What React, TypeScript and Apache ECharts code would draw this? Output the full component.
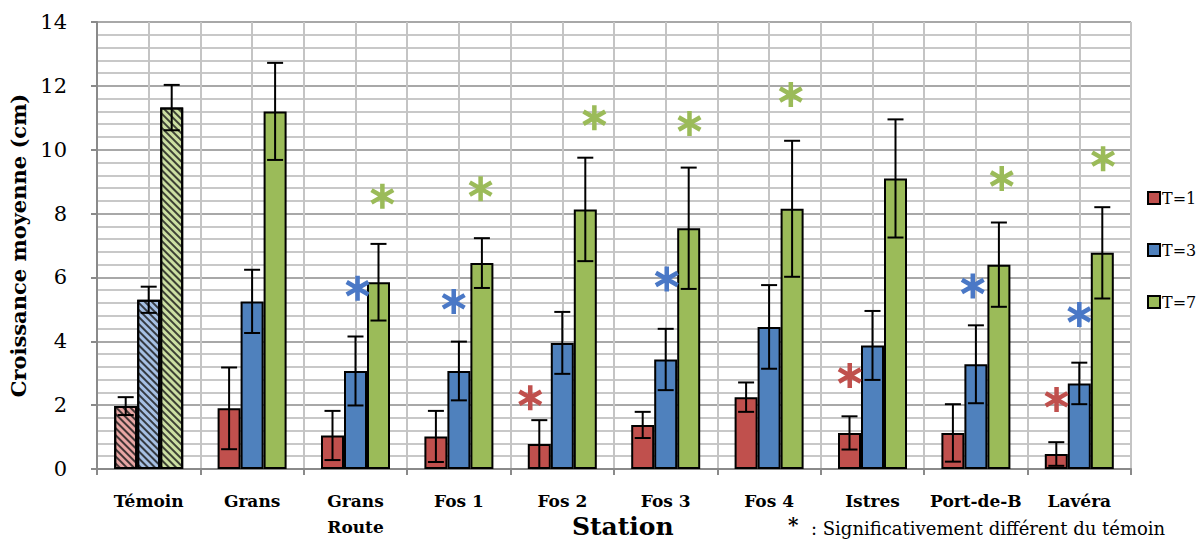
import React, { useEffect, useRef } from 'react';
import * as echarts from 'echarts';

const categories = ['Témoin', 'Grans', 'Grans\nRoute', 'Fos 1', 'Fos 2', 'Fos 3', 'Fos 4', 'Istres', 'Port-de-B', 'Lavéra'];
const seriesNames = ['T=1', 'T=3', 'T=7'];

const meanT1 = [1.97, 1.9, 1.05, 1.02, 0.78, 1.38, 2.25, 1.13, 1.13, 0.47];
const errT1 = [0.28, 1.28, 0.77, 0.8, 0.75, 0.41, 0.46, 0.52, 0.9, 0.37];
const meanT3 = [5.3, 5.25, 3.07, 3.07, 3.95, 3.43, 4.45, 3.87, 3.28, 2.68];
const errT3 = [0.41, 0.99, 1.08, 0.92, 0.97, 0.96, 1.31, 1.08, 1.22, 0.65];
const meanT7 = [11.32, 11.2, 5.85, 6.45, 8.13, 7.54, 8.15, 9.1, 6.4, 6.77];
const errT7 = [0.71, 1.52, 1.2, 0.78, 1.62, 1.9, 2.13, 1.85, 1.32, 1.43];

// significance markers: [position along the station axis (0..10), height in cm]
const starsT1 = [[4.19, 2.23], [7.28, 2.93], [9.28, 2.18]];
const starsT3 = [[2.52, 5.66], [3.45, 5.25], [5.51, 5.95], [8.47, 5.73], [9.5, 4.84]];
const starsT7 = [[2.76, 8.54], [3.71, 8.78], [4.81, 11.0], [5.73, 10.82], [6.71, 11.73], [8.75, 9.1], [9.73, 9.72]];

const yTicks = { min: 0, max: 14, interval: 2 };

const COLORS = ['#C0504D', '#4F81BD', '#9BBB59'];
const LIGHT = ['#E8A6A4', '#A6C0E4', '#CCDFA2'];
const STAR_COLORS = ['#C0504D', '#4A78C6', '#9BBB59'];
const FONT = 'DejaVu Serif';
const BAR_W = 23;

const STAR_PATH =
  'path://M-9,-50L9,-50L9,50L-9,50ZM38.8,-32.8L47.8,-17.2L-38.8,32.8L-47.8,17.2ZM47.8,17.2L38.8,32.8L-47.8,-17.2L-38.8,-32.8Z';

function barSeries(k: number, means: number[]) {
  return {
    type: 'bar',
    name: seriesNames[k],
    xAxisIndex: 0,
    yAxisIndex: 0,
    barWidth: BAR_W,
    barGap: '0%',
    z: 3,
    itemStyle: { color: COLORS[k], borderColor: '#000', borderWidth: 2 },
    data: means.map((m, i) =>
      i === 0
        ? {
            value: m,
            itemStyle: {
              color: LIGHT[k],
              decal: {
                symbol: 'rect',
                symbolSize: 1,
                color: 'rgba(25,25,25,0.8)',
                dashArrayX: [1, 0],
                dashArrayY: [1.5, 2.2],
                rotation: Math.PI / 4,
              },
            },
          }
        : m
    ),
  };
}

function errSeries(k: number, means: number[], errs: number[]) {
  const offset = (k - 1) * BAR_W;
  return {
    type: 'custom',
    name: 'err' + seriesNames[k],
    xAxisIndex: 0,
    yAxisIndex: 0,
    z: 6,
    encode: { x: 0, y: 1 },
    data: means.map((m, i) => [i, m, errs[i]]),
    renderItem: (_params: any, api: any) => {
      const i = api.value(0);
      const m = api.value(1);
      const e = api.value(2);
      const top = api.coord([i, m + e]);
      const bot = api.coord([i, Math.max(0, m - e)]);
      const x = top[0] + offset;
      const style = { stroke: '#000', lineWidth: 2 };
      return {
        type: 'group',
        children: [
          { type: 'line', shape: { x1: x, y1: top[1], x2: x, y2: bot[1] }, style },
          { type: 'line', shape: { x1: x - 8, y1: top[1], x2: x + 8, y2: top[1] }, style },
          { type: 'line', shape: { x1: x - 8, y1: bot[1], x2: x + 8, y2: bot[1] }, style },
        ],
      };
    },
  };
}

function starSeries(k: number, pts: number[][]) {
  return {
    type: 'scatter',
    name: 'star' + seriesNames[k],
    xAxisIndex: 1,
    yAxisIndex: 0,
    z: 7,
    symbol: STAR_PATH,
    symbolSize: [24, 25],
    itemStyle: { color: STAR_COLORS[k], opacity: 1 },
    data: pts,
  };
}

export default function App() {
  const ref = useRef<HTMLDivElement>(null);
  useEffect(() => {
    if (!ref.current) return;
    const chart = echarts.init(ref.current, null, { renderer: 'svg' });
    const axisGray = '#8a8a8a';
    chart.setOption({
      animation: false,
      backgroundColor: '#ffffff',
      grid: { left: 97, right: 69, top: 22, bottom: 65, containLabel: false },
      legend: {
        data: seriesNames,
        orient: 'vertical',
        left: 1142,
        top: 185,
        icon: 'rect',
        itemWidth: 12,
        itemHeight: 12,
        itemGap: 36,
        textStyle: { fontFamily: FONT, fontSize: 16, color: '#000', padding: [0, 0, 0, -3] },
      },
      xAxis: [
        {
          type: 'category',
          data: categories,
          axisLine: { lineStyle: { color: axisGray, width: 2 } },
          axisTick: { show: true, length: 6, lineStyle: { color: axisGray, width: 2 } },
          axisLabel: {
            interval: 0,
            fontFamily: FONT,
            fontWeight: 'bold',
            fontSize: 17,
            lineHeight: 26,
            color: '#000',
            margin: 19,
          },
          splitLine: { show: false },
        },
        {
          type: 'value',
          min: 0,
          max: 10,
          interval: 0.5,
          position: 'bottom',
          axisLine: { show: false },
          axisTick: { show: false },
          axisLabel: { show: false },
          splitLine: { show: true, lineStyle: { color: '#c4c4c4', width: 2 } },
        },
      ],
      yAxis: {
        type: 'value',
        min: yTicks.min,
        max: yTicks.max,
        interval: yTicks.interval,
        name: 'Croissance moyenne (cm)',
        nameLocation: 'middle',
        nameGap: 62,
        nameTextStyle: { fontFamily: FONT, fontWeight: 'bold', fontSize: 21, color: '#000' },
        axisLine: { show: true, lineStyle: { color: axisGray, width: 2 } },
        axisTick: { show: true, length: 6, lineStyle: { color: axisGray, width: 2 } },
        axisLabel: { fontFamily: FONT, fontSize: 21, color: '#000', margin: 30 },
        splitLine: { show: true, lineStyle: { color: '#a8a8a8', width: 2 } },
        minorTick: { show: false, splitNumber: 5 },
        minorSplitLine: { show: true, lineStyle: { color: '#c8c8c8', width: 2 } },
      },
      graphic: [
        {
          type: 'text',
          left: 572,
          top: 514,
          style: { text: 'Station', fontFamily: FONT, fontWeight: 'bold', fontSize: 25, fill: '#000' },
        },
        {
          type: 'text',
          left: 788,
          top: 515,
          style: { text: '*', fontFamily: FONT, fontWeight: 'bold', fontSize: 20, lineHeight: 20, fill: '#000' },
        },
        {
          type: 'text',
          left: 811,
          top: 519,
          style: {
            text: ': Significativement différent du témoin',
            fontFamily: FONT,
            fontSize: 18,
            fill: '#000',
          },
        },
      ],
      series: [
        barSeries(0, meanT1),
        barSeries(1, meanT3),
        barSeries(2, meanT7),
        errSeries(0, meanT1, errT1),
        errSeries(1, meanT3, errT3),
        errSeries(2, meanT7, errT7),
        starSeries(0, starsT1),
        starSeries(1, starsT3),
        starSeries(2, starsT7),
      ],
    });
    return () => chart.dispose();
  }, []);
  return (
    <div
      ref={ref}
      style={{ position: 'fixed', left: 0, top: 0, width: 1200, height: 540, background: '#fff' }}
    />
  );
}
